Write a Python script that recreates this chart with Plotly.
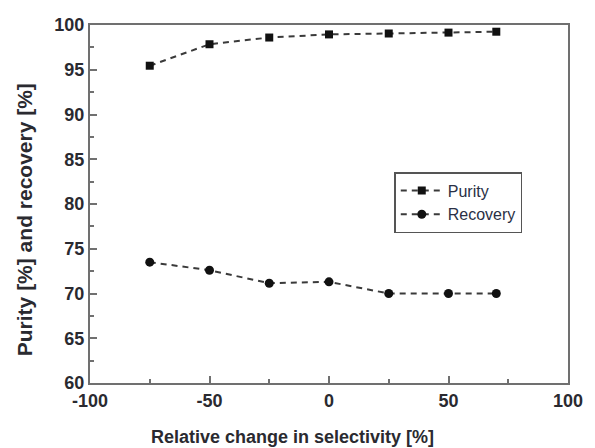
import plotly.graph_objects as go

x_vals = [-75, -50, -25, 0, 25, 50, 70]
purity = [95.45, 97.85, 98.6, 98.95, 99.05, 99.15, 99.25]
recovery = [73.5, 72.6, 71.15, 71.3, 70.0, 70.0, 70.0]

x_ticks = [-100, -50, 0, 50, 100]
x_tick_labels = ["-100", "-50", "0", "50", "100"]
y_ticks = [60, 65, 70, 75, 80, 85, 90, 95, 100]

FONT = "Arial, Liberation Sans, sans-serif"
TXT = "#2a2a30"
AX = "#707070"

fig = go.Figure()
fig.add_trace(go.Scatter(
    x=x_vals, y=purity, name="Purity", mode="lines+markers",
    line=dict(color="#3a3a3a", width=2, dash="6px,5px"),
    marker=dict(symbol="square", size=8, color="#111111"),
))
fig.add_trace(go.Scatter(
    x=x_vals, y=recovery, name="Recovery", mode="lines+markers",
    line=dict(color="#3a3a3a", width=2, dash="6px,5px"),
    marker=dict(symbol="circle", size=9, color="#111111"),
))

axis_common = dict(
    showgrid=False, zeroline=False, showline=True, linecolor=AX, linewidth=2,
    mirror=True, ticks="inside", ticklen=7, tickwidth=1.5, tickcolor=AX,
    tickfont=dict(family=FONT, size=18, color=TXT, weight="bold"),
)

fig.update_xaxes(range=[-100, 100], tickvals=x_ticks, ticktext=x_tick_labels,
                 minor=dict(ticks="inside", ticklen=4, dtick=25, tick0=0, tickcolor=AX, tickwidth=1.5),
                 **axis_common)
fig.update_yaxes(range=[60, 100], tickvals=y_ticks,
                 minor=dict(ticks="inside", ticklen=4, dtick=2.5, tick0=0, tickcolor=AX, tickwidth=1.5),
                 **axis_common)

fig.add_annotation(text="Relative change in selectivity [%]", xref="paper", yref="paper",
                   x=(296 - 90) / 487, y=-(437 - 383) / 358, xanchor="center", yanchor="middle",
                   showarrow=False, font=dict(family=FONT, size=18, color=TXT, weight="bold"))
fig.add_annotation(text="Purity [%] and recovery [%]", xref="paper", yref="paper",
                   x=-(90 - 24) / 487, y=(383 - 220) / 358, xanchor="center", yanchor="middle",
                   textangle=-90, showarrow=False,
                   font=dict(family=FONT, size=21, color=TXT, weight="bold"))

fig.update_layout(
    width=595, height=448,
    margin=dict(l=90, r=18, t=25, b=65),
    paper_bgcolor="white", plot_bgcolor="white",
    showlegend=True,
    legend=dict(x=(400 - 90) / 487, y=(383 - 172) / 358, xanchor="left", yanchor="top",
                bgcolor="white", bordercolor="#555555", borderwidth=1.5,
                font=dict(family=FONT, size=16, color="#2a3045"),
                tracegroupgap=0, itemwidth=42),
)

fig.write_html("out.html")
